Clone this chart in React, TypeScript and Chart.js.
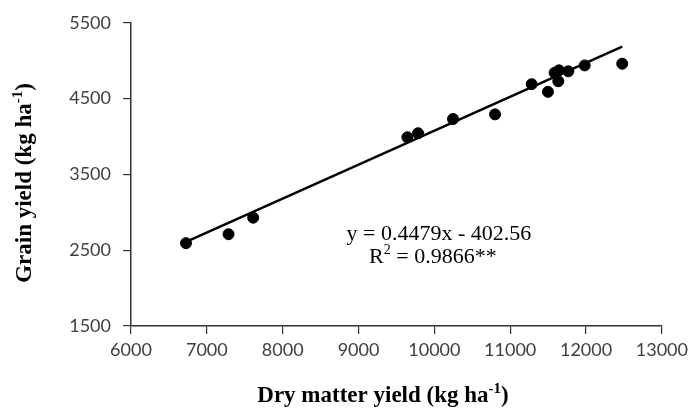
import React, { useEffect, useRef } from "react";
import { Chart, registerables } from "chart.js";

Chart.register(...registerables);

// Data
const dryMatter = [6725, 7286, 7611, 9644, 9785, 10246, 10800, 11283, 11498, 11586, 11643, 11634, 11766, 11982, 12477];
const grainYield = [2593, 2711, 2929, 3990, 4043, 4231, 4292, 4690, 4589, 4842, 4873, 4729, 4860, 4938, 4960];

const slope = 0.4479;
const intercept = -402.56;
const rSquared = "0.9866";

const xMin = 6000;
const xMax = 13000;
const xStep = 1000;
const yMin = 1500;
const yMax = 5500;
const yStep = 1000;

const xTitle = [{ t: "Dry matter yield (kg ha" }, { t: "-1", sup: true }, { t: ")" }];
const yTitle = [{ t: "Grain yield (kg ha" }, { t: "-1", sup: true }, { t: ")" }];
const eqLine1 = [{ t: "y = " + slope + "x - " + Math.abs(intercept) }];
const eqLine2 = [{ t: "R" }, { t: "2", sup: true }, { t: " = " + rSquared + "**" }];

type Part = { t: string; sup?: boolean };

function drawRich(ctx: CanvasRenderingContext2D, parts: Part[], cx: number, baseline: number, size: number, bold: boolean) {
  const fam = '"Liberation Serif", "Times New Roman", serif';
  const w = bold ? "bold " : "";
  const main = `${w}${size}px ${fam}`;
  const sup = `${w}${Math.round(size * 0.65)}px ${fam}`;
  let total = 0;
  const widths = parts.map((p) => {
    ctx.font = p.sup ? sup : main;
    const m = ctx.measureText(p.t).width;
    total += m;
    return m;
  });
  let x = cx - total / 2;
  ctx.textAlign = "left";
  ctx.textBaseline = "alphabetic";
  parts.forEach((p, i) => {
    ctx.font = p.sup ? sup : main;
    ctx.fillText(p.t, x, p.sup ? baseline - size * 0.38 : baseline);
    x += widths[i];
  });
}

const textPlugin = {
  id: "richTexts",
  afterDraw(chart: any) {
    const { ctx, scales } = chart;
    ctx.save();
    ctx.fillStyle = "#000";
    // x-axis title
    drawRich(ctx, xTitle, 383, 402, 23, true);
    // y-axis title
    ctx.save();
    ctx.translate(31, 183);
    ctx.rotate(-Math.PI / 2);
    drawRich(ctx, yTitle, 0, 0, 23, true);
    ctx.restore();
    // regression annotation
    const ax = scales.x.getPixelForValue(10020);
    const ay = scales.y.getPixelForValue(2650);
    drawRich(ctx, eqLine1, ax + 3, ay + 1, 22, false);
    drawRich(ctx, eqLine2, ax - 3, ay + 24, 22, false);
    ctx.restore();
  },
};

export default function App() {
  const ref = useRef<HTMLCanvasElement | null>(null);
  useEffect(() => {
    if (!ref.current) return;
    const pts = dryMatter.map((x, i) => ({ x, y: grainYield[i] }));
    const lo = Math.min(...dryMatter);
    const hi = Math.max(...dryMatter);
    const trend = [
      { x: lo, y: slope * lo + intercept },
      { x: hi, y: slope * hi + intercept },
    ];
    const axisColor = "#333333";
    const tickFont = { family: "Lato, 'Open Sans', sans-serif", size: 18 };
    const plain = (v: any) => String(v);
    const chart = new Chart(ref.current, {
      type: "scatter",
      data: {
        datasets: [
          {
            type: "line",
            data: trend,
            borderColor: "#000",
            borderWidth: 2.5,
            pointRadius: 0,
            fill: false,
          } as any,
          {
            data: pts,
            backgroundColor: "#000",
            borderColor: "#000",
            pointRadius: 5.5,
            pointHoverRadius: 5.5,
          },
        ],
      },
      plugins: [textPlugin],
      options: {
        responsive: false,
        animation: false,
        events: [],
        layout: { padding: { top: 22, right: 31, bottom: 0, left: 0 } },
        plugins: { legend: { display: false }, tooltip: { enabled: false }, title: { display: false } },
        scales: {
          x: {
            type: "linear",
            min: xMin,
            max: xMax,
            afterFit: (s: any) => {
              s.height = 90;
            },
            ticks: { stepSize: xStep, color: "#404040", font: tickFont, padding: 5, maxRotation: 0, callback: plain },
            grid: { drawOnChartArea: false, drawTicks: true, tickLength: 8, color: axisColor, lineWidth: 1.2 },
            border: { display: true, color: axisColor, width: 1.5 },
          },
          y: {
            type: "linear",
            min: yMin,
            max: yMax,
            afterFit: (s: any) => {
              s.width = 131;
            },
            ticks: { stepSize: yStep, color: "#404040", font: tickFont, padding: 12, callback: plain },
            grid: { drawOnChartArea: false, drawTicks: true, tickLength: 8, color: axisColor, lineWidth: 1.2 },
            border: { display: true, color: axisColor, width: 1.5 },
          },
        },
      },
    });
    return () => chart.destroy();
  }, []);
  return (
    <div style={{ position: "absolute", left: 0, top: 0, width: 693, height: 416, background: "#fff" }}>
      <canvas ref={ref} width={693} height={416} />
    </div>
  );
}
